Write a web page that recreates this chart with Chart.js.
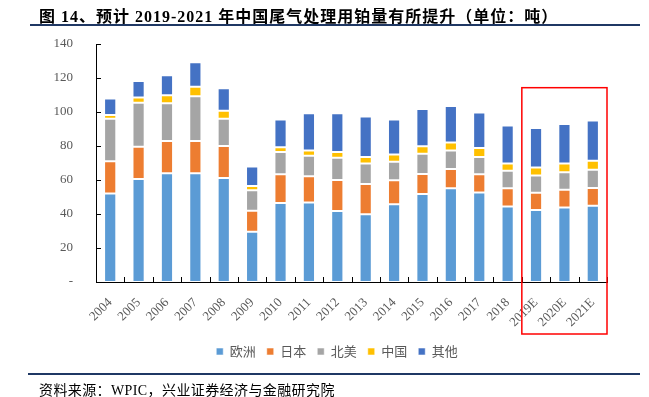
<!DOCTYPE html>
<html>
<head>
<meta charset="utf-8">
<script src="https://cdn.jsdelivr.net/npm/chart.js@4"></script>
<style>
  body { margin: 0; background: #fff; }
  #wrap { position: relative; width: 649px; height: 397px; overflow: hidden; }
  #chart { position: absolute; left: 0; top: 0; }
  .title { position: absolute; left: 39px; top: 3px; font: bold 16px "Liberation Serif", "Noto Sans CJK SC", serif; letter-spacing: 1px; color: #000; white-space: nowrap; }
  .line { position: absolute; height: 2px; background: #1f3864; }
  .src { position: absolute; left: 39px; top: 379px; font: 14px "Liberation Serif", "Noto Sans CJK SC", serif; letter-spacing: 0.4px; color: #000; white-space: nowrap; }
</style>
</head>
<body>
<div id="wrap">
  <canvas id="chart" width="649" height="397"></canvas>
  <div class="title">图 14、预计 2019-2021 年中国尾气处理用铂量有所提升（单位：吨）</div>
  <div class="line" style="left:30px; top:24px; width:610px;"></div>
  <div class="line" style="left:28px; top:373px; width:612px;"></div>
  <div class="src">资料来源：WPIC，兴业证券经济与金融研究院</div>
</div>
<script>
// 数据（吨）
const years = ['2004', '2005', '2006', '2007', '2008', '2009', '2010', '2011', '2012',
  '2013', '2014', '2015', '2016', '2017', '2018', '2019E', '2020E', '2021E'];
const europe = [52.1, 60.6, 64.0, 64.0, 61.2, 29.6, 46.4, 46.8, 41.7, 39.9, 45.8, 51.7, 55.1, 52.7, 44.4, 42.3, 43.8, 44.8];
const japan = [19.0, 19.0, 18.9, 18.9, 18.8, 12.3, 17.0, 15.4, 18.3, 17.8, 14.0, 11.9, 11.3, 10.7, 10.7, 10.2, 10.5, 10.5];
const northAmerica = [24.9, 25.8, 22.2, 26.3, 16.0, 12.0, 13.0, 12.0, 13.1, 12.0, 10.9, 11.8, 11.0, 10.1, 10.3, 10.1, 10.3, 10.7];
const china = [2.3, 3.2, 4.7, 5.7, 4.7, 2.6, 2.8, 3.2, 3.3, 3.8, 4.3, 4.4, 4.7, 5.3, 4.3, 4.7, 5.1, 5.3];
const other = [9.7, 9.7, 11.8, 14.4, 13.2, 11.4, 16.4, 21.9, 22.9, 23.9, 20.6, 21.9, 21.4, 20.9, 22.3, 23.3, 23.3, 23.7];
const yTicks = [0, 20, 40, 60, 80, 100, 120, 140];
const boxTop = 114.3; // 红框上沿对应的数值

Chart.defaults.font.family = '"Liberation Serif", "Noto Sans CJK SC", serif';
Chart.defaults.color = '#595959';

function ds(label, data, color) {
  return {
    label: label, data: data, backgroundColor: color,
    borderColor: 'rgba(255,255,255,0.55)', borderWidth: 1, borderSkipped: false,
    barPercentage: 0.43, categoryPercentage: 1
  };
}

// 坐标轴内向刻度 + 红框，图例右移居中
const extras = {
  id: 'extras',
  afterLayout(chart) {
    chart.legend.left = 67;
  },
  afterDraw(chart) {
    const c = chart.ctx, x = chart.scales.x, y = chart.scales.y;
    c.save();
    c.strokeStyle = '#000';
    c.lineWidth = 1;
    const n = years.length, w = (x.right - x.left) / n;
    for (let i = 0; i <= n; i++) {
      const px = Math.round(x.left + i * w) + 0.5;
      c.beginPath(); c.moveTo(px, y.bottom); c.lineTo(px, y.bottom - 5); c.stroke();
    }
    yTicks.forEach(v => {
      const py = Math.round(y.getPixelForValue(v)) + 0.5;
      c.beginPath(); c.moveTo(x.left, py); c.lineTo(x.left + 5, py); c.stroke();
    });
    const left = x.getPixelForValue(15) - w / 2;
    const top = y.getPixelForValue(boxTop);
    c.strokeStyle = '#ff0000';
    c.lineWidth = 1.5;
    c.strokeRect(left, top, x.right - left, y.bottom + 52 - top);
    c.restore();
  }
};

new Chart(document.getElementById('chart'), {
  type: 'bar',
  data: {
    labels: years,
    datasets: [
      ds('欧洲', europe, '#5b9bd5'),
      ds('日本', japan, '#ed7d31'),
      ds('北美', northAmerica, '#a5a5a5'),
      ds('中国', china, '#ffc000'),
      ds('其他', other, '#4472c4')
    ]
  },
  options: {
    responsive: false,
    animation: false,
    layout: { padding: { left: 0, right: 42, top: 44, bottom: 29 } },
    plugins: {
      legend: {
        position: 'bottom',
        labels: {
          boxWidth: 7, boxHeight: 7, padding: 11, color: '#595959',
          font: { size: 13, family: '"Noto Sans CJK SC", sans-serif' }
        }
      },
      tooltip: { enabled: false }
    },
    scales: {
      x: {
        stacked: true,
        grid: { display: false },
        border: { color: '#000', width: 1 },
        ticks: { minRotation: 45, maxRotation: 45, padding: 5, font: { size: 13 }, color: '#595959' },
        afterFit: s => { s.height = 52; }
      },
      y: {
        stacked: true,
        min: 0, max: 140,
        grid: { display: false },
        border: { color: '#000', width: 1 },
        afterBuildTicks: s => { s.ticks = yTicks.map(v => ({ value: v })); },
        ticks: { padding: 15, font: { size: 13 }, color: '#595959', callback: v => v === 0 ? '-' : v },
        afterFit: s => { s.width = 96; }
      }
    }
  },
  plugins: [extras]
});
</script>
</body>
</html>
